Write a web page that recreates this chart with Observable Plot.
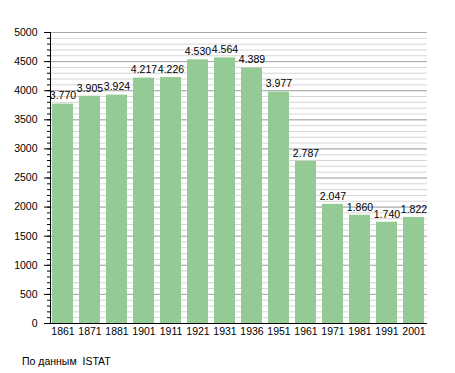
<!DOCTYPE html>
<html>
<head>
<meta charset="utf-8">
<script src="https://cdn.jsdelivr.net/npm/d3@7"></script>
<script src="https://cdn.jsdelivr.net/npm/@observablehq/plot@0.6"></script>
<style>
  html, body { margin: 0; padding: 0; background: #fff; }
  body { width: 455px; height: 373px; position: relative; font-family: "Liberation Sans", Arial, sans-serif; }
  #chart { position: absolute; left: 0; top: 0; }
  #caption { position: absolute; left: 22px; top: 355px; font-size: 10.5px; color: #000; white-space: pre; }
</style>
</head>
<body>
<div id="chart"></div>
<div id="caption">По данным  ISTAT</div>
<script>
const years = ["1861","1871","1881","1901","1911","1921","1931","1936","1951","1961","1971","1981","1991","2001"];
const population = [3770, 3905, 3924, 4217, 4226, 4530, 4564, 4389, 3977, 2787, 2047, 1860, 1740, 1822];
const yTicks = [0, 500, 1000, 1500, 2000, 2500, 3000, 3500, 4000, 4500, 5000];
const yMinorTicks = d3.range(0, 5001, 100);

const data = years.map((y, i) => ({year: y, value: population[i]}));
const fmt = v => d3.format(",")(v).replace(/,/g, ".");

const chart = Plot.plot({
  width: 455,
  height: 345,
  marginLeft: 50,
  marginRight: 28,
  marginTop: 32,
  marginBottom: 22,
  style: {fontFamily: "Liberation Sans, Arial, sans-serif", fontSize: "10px", color: "#000", background: "#fff"},
  x: {domain: years, paddingInner: 0.22, paddingOuter: 0.04, label: null},
  y: {domain: [0, 5000], label: null},
  marks: [
    Plot.gridY(yMinorTicks, {stroke: "#d6d6d6", strokeOpacity: 1}),
    Plot.gridY(yTicks, {stroke: "#a8a8a8", strokeOpacity: 1}),
    Plot.barY(data, {x: "year", y: "value", fill: "#94ca94"}),
    Plot.text(data, {x: "year", y: "value", text: d => fmt(d.value), dy: -8, fill: "#000", fontSize: 10.5}),
    Plot.axisY(yMinorTicks, {tickSize: 3, text: null, stroke: "#000", strokeOpacity: 1}),
    Plot.axisY(yTicks, {tickSize: 6, tickPadding: 7, tickFormat: d3.format("d"), stroke: "#000", strokeOpacity: 1, fill: "#000", fontSize: 10.5}),
    Plot.axisX({tickSize: 0, tickPadding: 4, fill: "#000", fontSize: 10.5}),
    Plot.frame({anchor: "left", stroke: "#000"}),
    Plot.ruleY([0], {stroke: "#000"})
  ]
});
document.getElementById("chart").appendChild(chart);
</script>
</body>
</html>
